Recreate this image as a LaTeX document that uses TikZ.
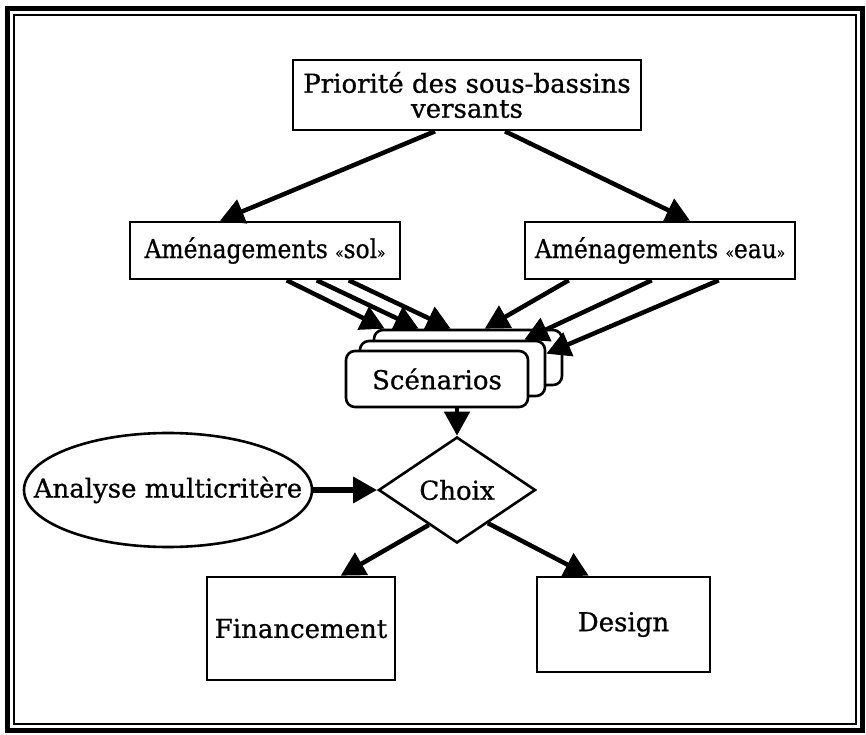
\documentclass[tikz,border=0pt]{standalone}
\usepackage{fontspec}
\usepackage{graphicx}
\newfontfamily\lbl{DejaVu Serif}[FakeBold=0.8]
\usetikzlibrary{arrows.meta,shapes.geometric}
\newcommand{\gl}{{\fontsize{15}{15}\selectfont«}}
\newcommand{\gr}{{\fontsize{15}{15}\selectfont»}}

\begin{document}
\begin{tikzpicture}[x=1pt,y=-1pt,
  every node/.style={font=\lbl\fontsize{26}{25}\selectfont},
  box/.style={draw,line width=2.6pt,fill=white,inner sep=0pt,align=center},
  stackbox/.style={box,rounded corners=9pt},
  conn/.style={line width=4.5pt,-{Triangle[length=24pt,width=25pt]}},
  thickconn/.style={conn,line width=6.5pt}]
\useasboundingbox (0,0) rectangle (866,735);

% double frame
\draw[line width=5pt] (7,9) rectangle (862,730);
\draw[line width=1.5pt] (14,15) rectangle (856,724);

% boxes
\node[box,minimum width=348pt,minimum height=70pt] (prio) at (467,95)
  {Priorité des sous-bassins\\versants};
\node[box,minimum width=270pt,minimum height=57pt] (sol) at (265,250.5)
  {\scalebox{0.9}[1]{Aménagements \gl sol\gr}};
\node[box,minimum width=270pt,minimum height=57pt] (eau) at (660,250.5)
  {\scalebox{0.9}[1]{Aménagements \gl eau\gr}};

% stack of scenarios, back to front
\node[stackbox,minimum width=188pt,minimum height=55pt] (rear) at (468,357.5) {};
\node[stackbox,minimum width=185pt,minimum height=55pt] (mid) at (452.5,368.5) {};
\node[stackbox,minimum width=182pt,minimum height=56pt] (front) at (437,379) {Scénarios};

\node[diamond,draw,line width=2.6pt,fill=white,minimum width=157pt,minimum height=106pt,inner sep=0pt]
  (choix) at (457,490) {Choix};
% ellipse outline and its label
\node[ellipse,draw,line width=2.6pt,minimum width=288pt,minimum height=114pt,inner sep=0pt]
  (multi) at (168,490) {};
\node (multitext) at (multi.center) {Analyse multicritère};
\node[box,minimum width=188pt,minimum height=103pt] (fin) at (301,628.5) {Financement};
\node[box,minimum width=173pt,minimum height=95pt] (design) at (623.5,624.5) {Design};

% connectors
\draw[conn] ([xshift=-32pt]prio.south) -- ([xshift=-45pt]sol.north);
\draw[conn] ([xshift=38pt]prio.south) -- ([xshift=30pt]eau.north);

\draw[conn] ([xshift=158pt]sol.south west) -- ([xshift=12pt]rear.north west);
\draw[conn] ([xshift=188pt]sol.south west) -- ([xshift=46pt]rear.north west);
\draw[conn] ([xshift=220pt]sol.south west) -- ([xshift=78pt]rear.north west);

\draw[conn] ([xshift=45pt]eau.south west) -- ([xshift=112pt]rear.north west);
\draw[conn] ([xshift=128pt]eau.south west) -- ([xshift=-22pt]mid.north east);
\draw[conn] ([xshift=195pt]eau.south west) -- ([yshift=-14pt]mid.north east);

\draw[conn] (choix.north |- front.south) -- (choix.north);
\draw[thickconn] (multi.east) -- (choix.west);
\draw[conn] (choix.-129) -- ([xshift=135pt]fin.north west);
\draw[conn] (choix.-47) -- ([xshift=53pt]design.north west);
\end{tikzpicture}
\end{document}
